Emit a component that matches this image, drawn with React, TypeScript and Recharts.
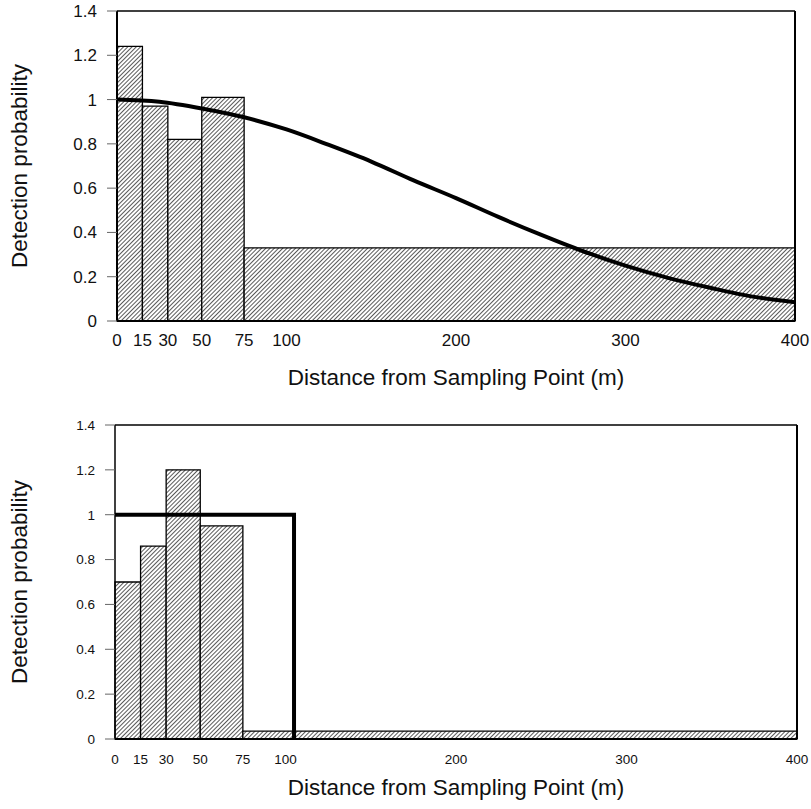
import React from "react";
import {
  ComposedChart,
  Line,
  XAxis,
  YAxis,
  ReferenceArea,
  ReferenceLine,
} from "recharts";

// distance class edges (m)
const binEdges = [0, 15, 30, 50, 75, 400];
// observed detection per class
const topBars = [1.24, 0.97, 0.82, 1.01, 0.33];
const bottomBars = [0.7, 0.86, 1.2, 0.95, 0.035];

// fitted detection curve (top)
const curveX = [0, 25, 50, 75, 100, 125, 150, 175, 200, 225, 250, 275, 300, 325, 350, 375, 400];
const curveY = [1.0, 0.99, 0.96, 0.92, 0.865, 0.795, 0.72, 0.635, 0.555, 0.47, 0.39, 0.315, 0.25, 0.195, 0.15, 0.11, 0.085];

// step detection function (bottom)
const stepX = [0, 105, 105];
const stepY = [1, 1, 0];

const xTicks = [0, 15, 30, 50, 75, 100, 200, 300, 400];
const yTicks = [0, 0.2, 0.4, 0.6, 0.8, 1, 1.2, 1.4];

const FONT = "'Liberation Sans', Arial, sans-serif";
const X_TITLE = "Distance from Sampling Point (m)";
const Y_TITLE = "Detection probability";

const curveData = curveX.map((x, i) => ({ x, y: curveY[i] }));
const stepData = stepX.map((x, i) => ({ x, y: stepY[i] }));

function Hatch({ id }: { id: string }) {
  return (
    <defs>
      <pattern
        id={id}
        width={3}
        height={3}
        patternUnits="userSpaceOnUse"
        patternTransform="rotate(45)"
      >
        <rect width={3} height={3} fill="#fff" />
        <line x1={0} y1={0} x2={0} y2={3} stroke="#222" strokeWidth={1.5} />
      </pattern>
    </defs>
  );
}

function bars(heights: number[], fill: string) {
  return heights.map((h, i) => (
    <ReferenceArea
      key={i}
      x1={binEdges[i]}
      x2={binEdges[i + 1]}
      y1={0}
      y2={h}
      fill={fill}
      fillOpacity={1}
      stroke="#000"
      strokeWidth={1.3}
      ifOverflow="visible"
    />
  ));
}

function TopPanel() {
  return (
    <ComposedChart
      width={811}
      height={400}
      data={curveData}
      margin={{ top: 11, right: 16, bottom: 0, left: 0 }}
      style={{ fontFamily: FONT }}
    >
      <Hatch id="hatchTop" />
      <XAxis
        dataKey="x"
        type="number"
        domain={[0, 400]}
        ticks={xTicks}
        interval={0}
        height={79}
        tickLine={false}
        tickSize={0}
        tickMargin={13}
        axisLine={{ stroke: "#000", strokeWidth: 2 }}
        tick={{ fontSize: 17, fill: "#111" }}
        label={{ value: X_TITLE, position: "insideBottom", offset: 15, fontSize: 22.5, fill: "#111" }}
      />
      <YAxis
        type="number"
        domain={[0, 1.4]}
        ticks={yTicks}
        interval={0}
        width={117}
        tickSize={10}
        tickMargin={10}
        tickLine={{ stroke: "#666" }}
        axisLine={{ stroke: "#000", strokeWidth: 2 }}
        tick={{ fontSize: 17, fill: "#111" }}
        label={{
          value: Y_TITLE,
          angle: -90,
          position: "insideLeft",
          offset: 19,
          fontSize: 22.5,
          fill: "#111",
          style: { textAnchor: "middle" },
        }}
      />
      {bars(topBars, "url(#hatchTop)")}
      <ReferenceLine y={1.4} stroke="#000" strokeWidth={1.5} />
      <ReferenceLine x={400} stroke="#000" strokeWidth={2} />
      <Line
        dataKey="y"
        type="monotone"
        stroke="#000"
        strokeWidth={4}
        dot={false}
        isAnimationActive={false}
      />
    </ComposedChart>
  );
}

function BottomPanel() {
  return (
    <ComposedChart
      width={811}
      height={409}
      data={stepData}
      margin={{ top: 25, right: 14, bottom: 0, left: 0 }}
      style={{ fontFamily: FONT }}
    >
      <Hatch id="hatchBottom" />
      <XAxis
        dataKey="x"
        type="number"
        domain={[0, 400]}
        ticks={xTicks}
        interval={0}
        height={70}
        tickLine={false}
        tickSize={0}
        tickMargin={15}
        axisLine={{ stroke: "#000", strokeWidth: 2 }}
        tick={{ fontSize: 13.5, fill: "#111" }}
        label={{ value: X_TITLE, position: "insideBottom", offset: 14, fontSize: 22.5, fill: "#111" }}
      />
      <YAxis
        type="number"
        domain={[0, 1.4]}
        ticks={yTicks}
        interval={0}
        width={115}
        tickSize={10}
        tickMargin={10}
        tickLine={{ stroke: "#666" }}
        axisLine={{ stroke: "#000", strokeWidth: 1.5 }}
        tick={{ fontSize: 13.5, fill: "#111" }}
        label={{
          value: Y_TITLE,
          angle: -90,
          position: "insideLeft",
          offset: 19,
          fontSize: 22.5,
          fill: "#111",
          style: { textAnchor: "middle" },
        }}
      />
      {bars(bottomBars, "url(#hatchBottom)")}
      <ReferenceLine y={1.4} stroke="#000" strokeWidth={1.5} />
      <ReferenceLine x={400} stroke="#000" strokeWidth={2} />
      <Line
        dataKey="y"
        type="linear"
        stroke="#000"
        strokeWidth={4}
        dot={false}
        isAnimationActive={false}
      />
    </ComposedChart>
  );
}

export default function App() {
  return (
    <div
      style={{
        position: "absolute",
        left: 0,
        top: 0,
        width: 811,
        height: 809,
        background: "#fff",
        fontFamily: FONT,
      }}
    >
      <div style={{ position: "absolute", left: 0, top: 0 }}>
        <TopPanel />
      </div>
      <div style={{ position: "absolute", left: 0, top: 400 }}>
        <BottomPanel />
      </div>
    </div>
  );
}
